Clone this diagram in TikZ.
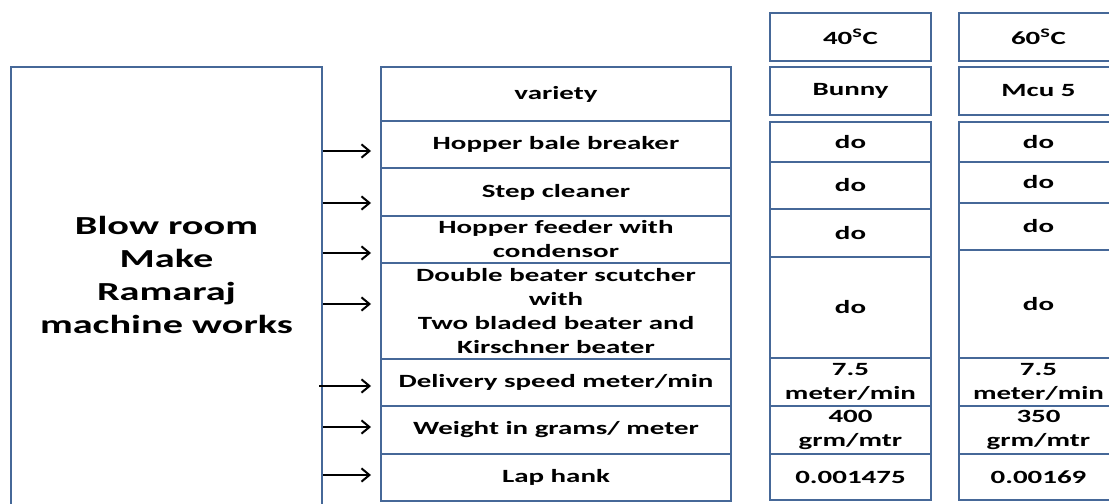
\documentclass[tikz,border=0pt]{standalone}
\usepackage{fontspec}
\setmainfont{Carlito}[FakeStretch=1.55]
\usepackage{tikz}
\usetikzlibrary{arrows.meta}
\tikzset{every picture/.style={line width=0.75pt}}

\begin{document}
\begin{tikzpicture}[x=0.75pt,y=0.75pt,yscale=-1,xscale=1,
	cell/.style={draw={rgb, 255:red, 70; green, 104; blue, 152}, line width=2pt, inner sep=0pt, align=center, font=\bfseries\fontsize{14}{18}\selectfont},
	midcell/.style={cell, minimum width=262.5pt},
	lcell/.style={cell, minimum width=120.75pt},
	rcell/.style={cell, minimum width=119.25pt},
	feed/.style={draw=black, line width=1.5pt, -{Straight Barb[length=6pt,width=10pt]}}]
					\useasboundingbox (0,0) rectangle (1109,503);
					%Shape: Rectangle [id:blowroom]
					\node [cell, minimum width=233.25pt, minimum height=345pt] (blow) at (166.5,297) {};
					\node [align=center, inner sep=0.75pt, font=\bfseries\fontsize{19.5}{24.75}\selectfont] (blowtxt) at (166.5,275) {Blow room\\Make\\Ramaraj\\machine works};
					
					%Shape: Table [id:process]
					\node [midcell, minimum height=40.5pt] (var) at (556,94) {variety};
					\node [midcell, minimum height=35.25pt] (hbb) at (556,144.5) {Hopper bale breaker};
					\node [midcell, minimum height=36pt] (stc) at (556,192) {Step cleaner};
					\node [midcell, minimum height=35.25pt] (hfc) at (556,239.5) {Hopper feeder with\\condensor};
					\node [midcell, minimum height=72pt] (dbs) at (556,311) {Double beater scutcher\\with\\Two bladed beater and\\Kirschner beater};
					\node [midcell, minimum height=35.25pt] (dsp) at (556,382.5) {Delivery speed meter/min};
					\node [midcell, minimum height=36pt] (wgm) at (556,430) {Weight in grams/ meter};
					\node [midcell, minimum height=35.25pt] (lph) at (556,477.5) {Lap hank};
					
					%Shape: Table [id:forty]
					\node [lcell, minimum height=36pt] (t40) at (850.5,37) {40\textsuperscript{S}C};
					\node [lcell, minimum height=36pt] (bun) at (850.5,91) {Bunny};
					\node [lcell, minimum height=30pt] (b1) at (850.5,142) {do};
					\node [lcell, minimum height=35.25pt] (b2) at (850.5,185.5) {do};
					\node [lcell, minimum height=36pt] (b3) at (850.5,233) {do};
					\node [lcell, minimum height=75.75pt] (b4) at (850.5,307.5) {do};
					\node [lcell, minimum height=36pt] (b5) at (850.5,382) {7.5\\meter/min};
					\node [lcell, minimum height=36pt] (b6) at (850.5,430) {400\\grm/mtr};
					\node [lcell, minimum height=34.5pt] (b7) at (850.5,477) {0.001475};
					
					%Shape: Table [id:sixty]
					\node [rcell, minimum height=36pt] (t60) at (1038.5,37) {60\textsuperscript{S}C};
					\node [rcell, minimum height=36pt] (mcu) at (1038.5,91) {Mcu 5};
					\node [rcell, minimum height=30pt] (m1) at (1038.5,142) {do};
					\node [rcell, minimum height=30.75pt] (m2) at (1038.5,182.5) {do};
					\node [rcell, minimum height=35.25pt] (m3) at (1038.5,226.5) {do};
					\node [rcell, minimum height=81pt] (m4) at (1038.5,304) {do};
					\node [rcell, minimum height=36pt] (m5) at (1038.5,382) {7.5\\meter/min};
					\node [rcell, minimum height=36pt] (m6) at (1038.5,430) {350\\grm/mtr};
					\node [rcell, minimum height=34.5pt] (m7) at (1038.5,477) {0.00169};
					
					%Arrows
					\coordinate (a1) at (371,151);
					\coordinate (a2) at (371,203);
					\coordinate (a3) at (371,253);
					\coordinate (a4) at (371,304);
					\coordinate (a5) at (371,386);
					\coordinate (a6) at (371,427);
					\coordinate (a7) at (371,475);
					\draw [feed] (blow.east |- a1) -- (a1);
					\draw [feed] (blow.east |- a2) -- (a2);
					\draw [feed] (blow.east |- a3) -- (a3);
					\draw [feed] (blow.east |- a4) -- (a4);
					\draw [feed] ([xshift=-3pt]blow.east |- a5) -- (a5);
					\draw [feed] (blow.east |- a6) -- (a6);
					\draw [feed] (blow.east |- a7) -- (a7);
				\end{tikzpicture}
\end{document}
